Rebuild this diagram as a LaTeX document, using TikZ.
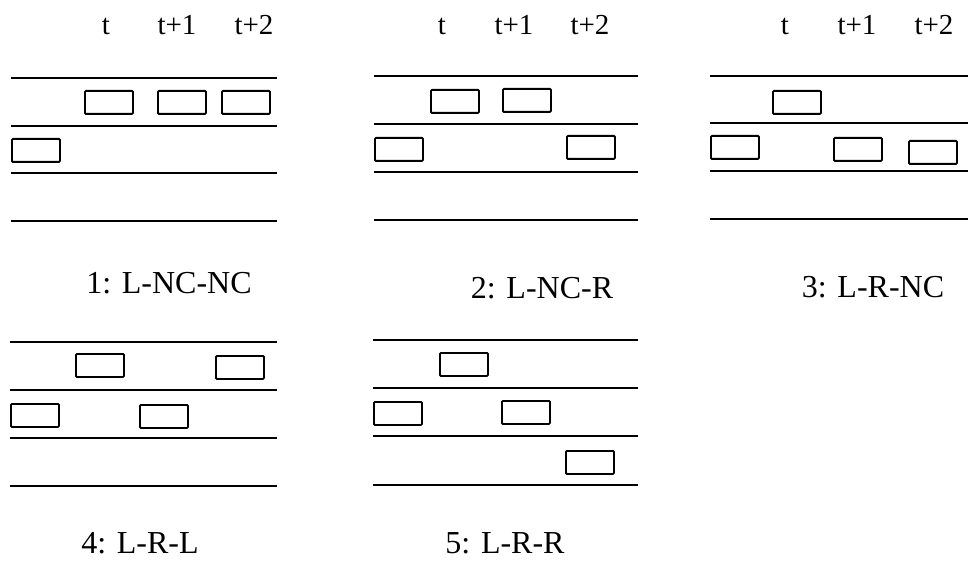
\documentclass[tikz,border=0pt]{standalone}
\usepackage{fontspec}
\setmainfont{Liberation Serif}
\begin{document}
\begin{tikzpicture}[x=1pt,y=-1pt,
  lane/.style={line width=1.8pt},
  car/.style={draw,line width=1.8pt,rounded corners=1pt,minimum width=48pt,minimum height=23pt,inner sep=0pt,anchor=north west},
  tlabel/.style={font=\fontsize{29}{32}\selectfont,anchor=base,inner sep=0pt},
  caption/.style={font=\fontsize{32}{36}\selectfont,anchor=base,inner sep=0pt}]
\useasboundingbox (0,0) rectangle (968,561);

% ---- scenario 1 ----
\node[tlabel] (a-t)  at (106,35) {t};
\node[tlabel] (a-t1) at (177,35) {t+1};
\node[tlabel] (a-t2) at (254,35) {t+2};
\foreach \y in {78,126,173,221} \draw[lane] (11,\y) -- (277,\y);
\node[car] (a-c1) at (84,90) {};
\node[car] (a-c2) at (157,90) {};
\node[car] (a-c3) at (221,90) {};
\node[car] (a-c0) at (11,138) {};
\node[caption] (a-cap) at (169,293) {1: L-NC-NC};

% ---- scenario 2 ----
\node[tlabel] (b-t)  at (442,35) {t};
\node[tlabel] (b-t1) at (514,35) {t+1};
\node[tlabel] (b-t2) at (590,35) {t+2};
\foreach \y in {76,124,172,220} \draw[lane] (374,\y) -- (638,\y);
\node[car] (b-c1) at (430,89) {};
\node[car] (b-c2) at (502,88) {};
\node[car] (b-c0) at (374,137) {};
\node[car] (b-c3) at (566,135) {};
\node[caption] (b-cap) at (542,298) {2: L-NC-R};

% ---- scenario 3 ----
\node[tlabel] (c-t)  at (785,35) {t};
\node[tlabel] (c-t1) at (857,35) {t+1};
\node[tlabel] (c-t2) at (934,35) {t+2};
\foreach \y in {76,123,171,219} \draw[lane] (710,\y) -- (968,\y);
\node[car] (c-c1) at (772,90) {};
\node[car] (c-c0) at (710,135) {};
\node[car] (c-c2) at (833,137) {};
\node[car] (c-c3) at (908,140) {};
\node[caption] (c-cap) at (873,297) {3: L-R-NC};

% ---- scenario 4 ----
\foreach \y in {342,390,438,486} \draw[lane] (10,\y) -- (277,\y);
\node[car] (d-c1) at (75,353) {};
\node[car] (d-c3) at (215,355) {};
\node[car] (d-c0) at (10,403) {};
\node[car] (d-c2) at (139,404) {};
\node[caption] (d-cap) at (140,553) {4: L-R-L};

% ---- scenario 5 ----
\foreach \y in {340,388,436,485} \draw[lane] (373,\y) -- (638,\y);
\node[car] (e-c1) at (439,352) {};
\node[car] (e-c0) at (373,401) {};
\node[car] (e-c2) at (501,400) {};
\node[car] (e-c3) at (565,450) {};
\node[caption] (e-cap) at (505,553) {5: L-R-R};
\end{tikzpicture}
\end{document}
